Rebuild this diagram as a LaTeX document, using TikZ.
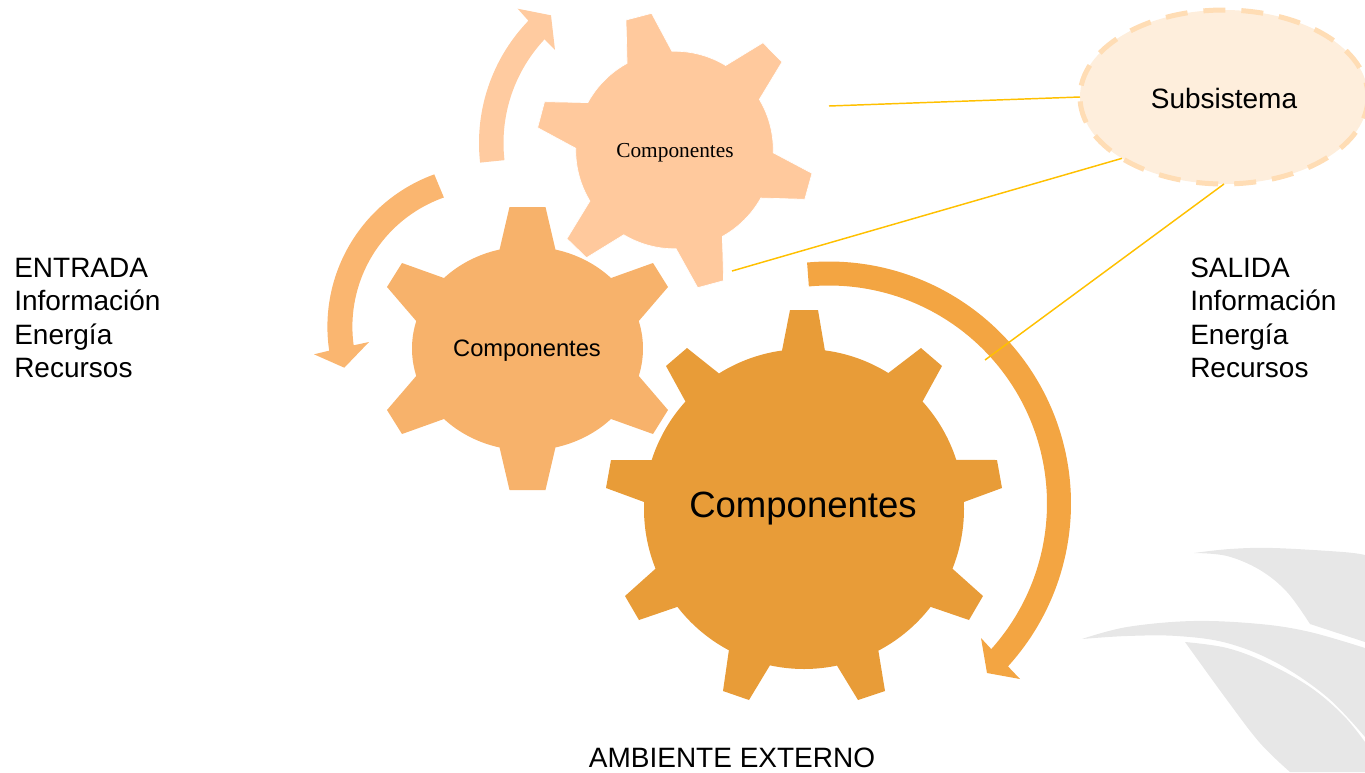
\documentclass[tikz,border=0pt]{standalone}
\usepackage{fontspec}
\setmainfont{Liberation Sans}
\newfontfamily\serifface{Liberation Serif}
\usetikzlibrary{shapes.geometric}
\definecolor{gearA}{HTML}{E89C38}
\definecolor{gearB}{HTML}{F7B26B}
\definecolor{gearC}{HTML}{FFC99D}
\definecolor{bandA}{HTML}{F3A542}
\definecolor{bandB}{HTML}{FAB670}
\definecolor{bandC}{HTML}{FFCBA0}
\definecolor{subfill}{HTML}{FEEEDC}
\definecolor{subline}{HTML}{FFDDB5}
\definecolor{linkcol}{HTML}{FFC000}
\definecolor{mark}{HTML}{E7E7E7}
\tikzset{
  linkline/.style={draw=linkcol,line width=1.1pt},
  sidetext/.style={anchor=west,align=left,font=\fontsize{21}{25.1}\selectfont,inner sep=0pt},
  gearlabel/.style={inner sep=0pt,text=black},
  wmark/.style={fill=mark},
}
\begin{document}
\begin{tikzpicture}[x=0.75pt,y=-0.75pt,samples=40]
\path[use as bounding box] (0,0) rectangle (1365,772);
\clip (0,0) rectangle (1365,772);
% watermark
\fill[wmark] plot[smooth,tension=.6] coordinates {(1194,553) (1230,549) (1273,548) (1343,552) (1365,555)} -- (1365,642) -- (1310,624) -- plot[smooth,tension=.6] coordinates {(1310,624) (1287,592) (1260,570) (1227,556) (1194,553)} -- cycle;
\fill[wmark] plot[smooth,tension=.6] coordinates {(1082,639) (1127,627) (1193,621) (1260,624) (1310,632) (1365,648)} -- (1365,737) -- plot[smooth,tension=.6] coordinates {(1365,737) (1327,697) (1277,663) (1227,643) (1177,636) (1127,636) (1082,639)} -- cycle;
\fill[wmark] plot[smooth,tension=.6] coordinates {(1185,642) (1227,648) (1267,663) (1310,687) (1343,715) (1365,742)} -- (1365,772) -- (1290,772) -- plot[smooth,tension=.6] coordinates {(1290,772) (1260,743) (1227,700) (1185,642)} -- cycle;
% curved arrows
\def\px{829+242*cos(\x)}\def\py{503.5+242*sin(\x)}
\def\qx{829+218*cos(\x)}\def\qy{503.5+218*sin(\x)}
\fill[bandA] plot[samples=120,domain=-95.2:42.3] ({\px},{\py}) -- (1020,679) -- (987,673) -- (981,638) -- plot[samples=120,domain=41.9:-95.3] ({\qx},{\qy}) -- cycle;
\def\px{489.4+162*cos(\x)}\def\py{326.7+162*sin(\x)}
\def\qx{489.4+137*cos(\x)}\def\qy{326.7+137*sin(\x)}
\fill[bandB] plot[samples=80,domain=250.1:171.5] ({\px},{\py}) -- (314,354.3) -- (344.3,367.7) -- (369,342) -- plot[samples=80,domain=172.2:250.6] ({\qx},{\qy}) -- cycle;
\def\px{655+176*cos(\x)}\def\py{143+176*sin(\x)}
\def\qx{655+151.5*cos(\x)}\def\qy{143+151.5*sin(\x)}
\fill[bandC] plot[samples=60,domain=173.6:224] ({\px},{\py}) -- (517.7,8.7) -- (551,15.3) -- (555,50) -- plot[samples=60,domain=223.2:173.5] ({\qx},{\qy}) -- cycle;
% big gear
\def\gx{804+160*cos(\x)}\def\gy{509+160*sin(\x)}
\fill[gearA] plot[domain=-82.5:-58.2] ({\gx},{\gy}) -- (921,348) -- (942,366)
 -- plot[domain=-42.2:-17.9] ({\gx},{\gy}) -- (997,460) -- (1002,488)
 -- plot[domain=-2.5:21.9] ({\gx},{\gy}) -- (983,596) -- (969,620)
 -- plot[domain=37.7:62.3] ({\gx},{\gy}) -- (885,691) -- (858,700)
 -- plot[domain=78.1:102.3] ({\gx},{\gy}) -- (749,700) -- (723,691)
 -- plot[domain=118:142.3] ({\gx},{\gy}) -- (639,620) -- (625,596)
 -- plot[domain=158.1:182.5] ({\gx},{\gy}) -- (606,488) -- (611,460)
 -- plot[domain=197.8:222.2] ({\gx},{\gy}) -- (666,366) -- (687,348)
 -- plot[domain=237.9:262.1] ({\gx},{\gy}) -- (790,310) -- (818,310) -- cycle;
% middle gear
\def\gx{527.5+115.5*cos(\x)}\def\gy{348.5+102*sin(\x)}
\fill[gearB] plot[domain=-76:-43.7] ({\gx},{\gy}) -- (653,263) -- (668,287)
 -- plot[domain=-15.6:15.6] ({\gx},{\gy}) -- (668,410) -- (653,434)
 -- plot[domain=43.7:76] ({\gx},{\gy}) -- (545.5,490) -- (509.5,490)
 -- plot[domain=104:136.3] ({\gx},{\gy}) -- (402,434) -- (387,410)
 -- plot[domain=164.4:195.6] ({\gx},{\gy}) -- (387,287) -- (402,263)
 -- plot[domain=223.7:256] ({\gx},{\gy}) -- (509.5,207) -- (545.5,207) -- cycle;
% small gear
\def\gx{674.5+98.8*cos(\x)}\def\gy{150+98.8*sin(\x)}
\filldraw[fill=gearC,draw=white,line width=0.5pt] plot[domain=-91.5:-58.8] ({\gx},{\gy}) -- (763,42.7) -- (782,62)
 -- plot[domain=-30.8:1.6] ({\gx},{\gy}) -- (812,173.3) -- (804.8,199.3)
 -- plot[domain=29.1:61] ({\gx},{\gy}) -- (723.6,280.7) -- (697.7,287.7)
 -- plot[domain=89.1:120.9] ({\gx},{\gy}) -- (586.5,257.7) -- (566.9,238.7)
 -- plot[domain=148.9:181] ({\gx},{\gy}) -- (537.6,127.7) -- (544.5,101.7)
 -- plot[domain=208.7:241.3] ({\gx},{\gy}) -- (626,20) -- (651.6,13.3) -- cycle;
% labels
\node[gearlabel,font=\fontsize{27.4}{30}\selectfont] (compA) at (803,509) {Componentes};
\node[gearlabel,font=\fontsize{17.8}{20}\selectfont] (compB) at (527,351) {Componentes};
\node[gearlabel,font=\serifface\fontsize{16}{18}\selectfont] (compC) at (675,153) {Componentes};
% subsystem
\node[ellipse,fill=subfill,inner sep=0pt,outer sep=0pt,minimum width=216pt,minimum height=130.5pt] (sub) at (1224,97) {};
\coordinate (linkA) at (829,106);
\coordinate (linkB) at (732,271);
\coordinate (linkC) at (985,360);
\draw[linkline] (linkA) -- (sub.180);
\draw[linkline] (linkB) -- (sub.211);
\draw[linkline] (linkC) -- (sub.270);
\draw[subline,line width=3.75pt,dash pattern=on 16.5pt off 12pt] (1224,97) ellipse[x radius=144,y radius=87];
\node[inner sep=0pt,font=\fontsize{21}{25}\selectfont] (subtext) at (1224,98) {Subsistema};
\node[sidetext] (entrada) at (14,318) {ENTRADA\\Información\\Energía\\Recursos};
\node[sidetext] (salida) at (1190,318) {SALIDA\\Información\\Energía\\Recursos};
\node[inner sep=0pt,font=\fontsize{21}{25}\selectfont] (ambiente) at (732,758) {AMBIENTE EXTERNO};
\end{tikzpicture}
\end{document}
